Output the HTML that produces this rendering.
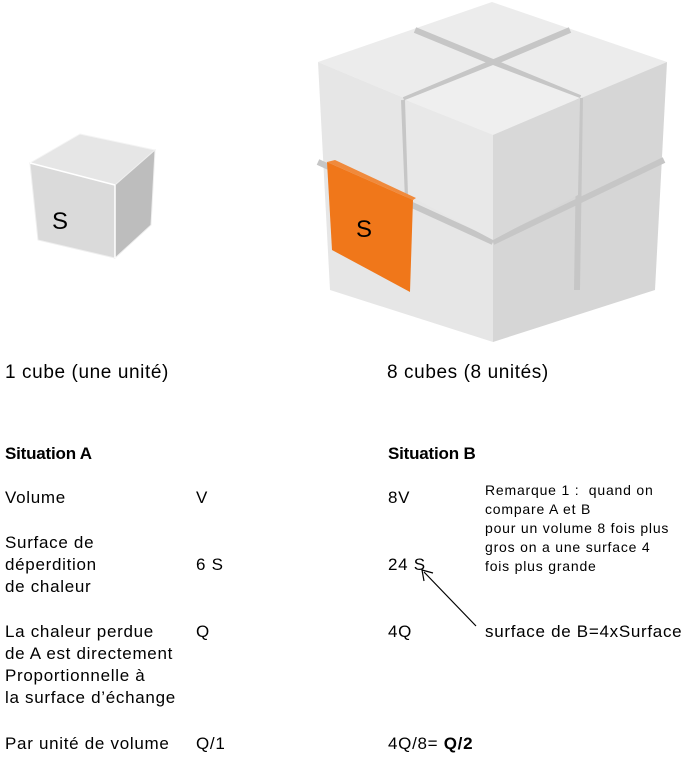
<!DOCTYPE html>
<html><head><meta charset="utf-8"><style>
body{margin:0;width:689px;height:775px;background:#fff;position:relative;overflow:hidden;font-family:"Liberation Sans",Arial,sans-serif;color:#000}
.t{position:absolute;font-size:17px;line-height:22px;white-space:nowrap;letter-spacing:0.7px}
.c{font-size:19px;letter-spacing:0.6px}
.b{font-weight:bold;letter-spacing:-0.2px}
.r{position:absolute;font-size:14px;line-height:19px;white-space:nowrap;letter-spacing:0.8px}
svg{position:absolute;left:0;top:0}
</style></head><body>
<svg width="689" height="775">
 <g>
  <polygon points="30,163 80,134 155,150 115,185" fill="#e6e6e6" stroke="#f4f4f4"/>
  <polygon points="30,163 115,185 115,258 38,240" fill="#dadada" stroke="#eee"/>
  <polygon points="115,185 155,150 151,225 115,258" fill="#bdbdbd" stroke="#eee"/>
  <line x1="115" y1="185" x2="115" y2="258" stroke="#fff" stroke-width="1.5"/>
  <line x1="30" y1="163" x2="115" y2="185" stroke="#fff" stroke-width="1.5"/>
  <text x="52" y="229" font-size="24" font-family="Liberation Sans, Arial, sans-serif">S</text>
 </g>
 <g>
  <polygon points="318,62 492,2 667,62 493,135" fill="#ececec"/>
  <polygon points="318,62 493,135 493,342 330,290" fill="#e6e6e6"/>
  <polygon points="493,135 667,62 655,290 493,342" fill="#d6d6d6"/>
  <g stroke="#c6c6c6" stroke-width="6" fill="none">
   <line x1="415" y1="30" x2="580" y2="98"/>
   <line x1="570" y1="30" x2="404" y2="100"/>
   <line x1="404" y1="100" x2="408" y2="200"/>
   <line x1="580" y1="98" x2="577" y2="290"/>
   <line x1="318" y1="162" x2="493" y2="242"/>
   <line x1="493" y1="242" x2="664" y2="160"/>
  </g>
  <polygon points="405,100 493,65 580,98 493,135" fill="#efefef"/>
  <polygon points="405,100 493,135 493,240 408,195" fill="#e8e8e8"/>
  <polygon points="493,135 580,98 578,195 493,240" fill="#d8d8d8"/>
  <polygon points="327,162 335,160 416,198 413,200" fill="#f08a3c"/>
  <polygon points="327,162 413,200 410,292 332,250" fill="#f0771a"/>
  <text x="356" y="237" font-size="24" font-family="Liberation Sans, Arial, sans-serif">S</text>
 </g>
 <g>
  <line x1="476" y1="626" x2="424" y2="572" stroke="#000" stroke-width="1.2"/>
  <polyline points="424,581 422,570 433,573" fill="none" stroke="#000" stroke-width="1.2"/>
 </g>
</svg>

<div class="t c" style="left:5px;top:362px">1 cube (une unité)</div>
<div class="t c" style="left:387px;top:362px">8 cubes (8 unités)</div>

<div class="t b" style="left:5px;top:443px">Situation A</div>
<div class="t b" style="left:388px;top:443px">Situation B</div>

<div class="t" style="left:5px;top:487px">Volume</div>
<div class="t" style="left:196px;top:487px">V</div>
<div class="t" style="left:388px;top:487px">8V</div>

<div class="r" style="left:485px;top:481px">Remarque 1 :&nbsp; quand on<br>compare A et B<br>pour un volume 8 fois plus<br>gros on a une surface 4<br>fois plus grande</div>

<div class="t" style="left:5px;top:532px">Surface de<br>déperdition<br>de chaleur</div>
<div class="t" style="left:196px;top:554px">6 S</div>
<div class="t" style="left:388px;top:554px">24 S</div>

<div class="t" style="left:5px;top:621px">La chaleur perdue<br>de A est directement<br>Proportionnelle à<br>la surface d’échange</div>
<div class="t" style="left:196px;top:621px">Q</div>
<div class="t" style="left:388px;top:621px">4Q</div>
<div class="t" style="left:485px;top:621px">surface de B=4xSurface</div>

<div class="t" style="left:5px;top:733px">Par unité de volume</div>
<div class="t" style="left:196px;top:733px">Q/1</div>
<div class="t" style="left:388px;top:733px">4Q/8= <b>Q/2</b></div>
</body></html>
